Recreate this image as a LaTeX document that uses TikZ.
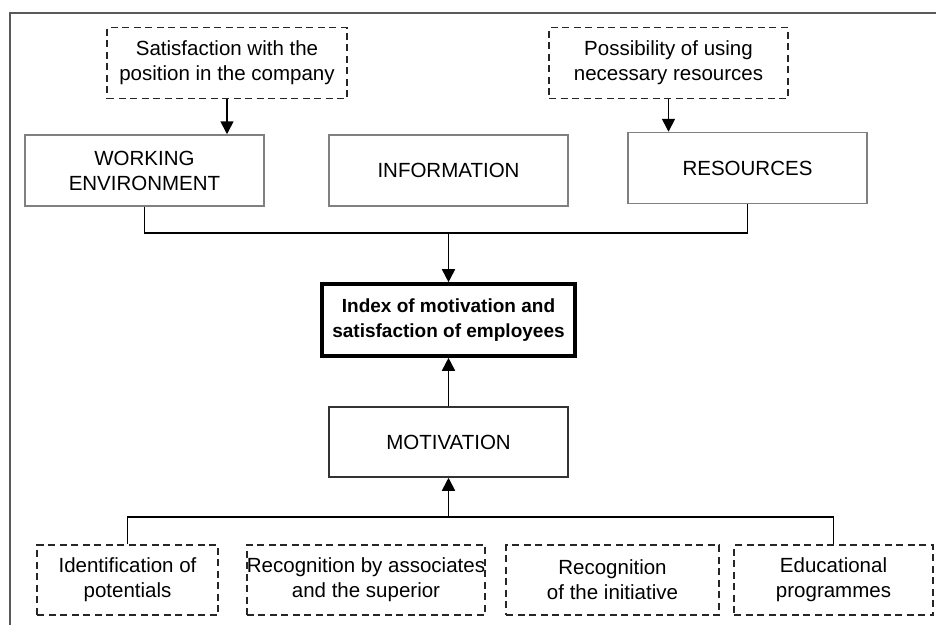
\documentclass[tikz,border=0pt]{standalone}
\usepackage{fontspec}
\setmainfont{Liberation Sans}
\usetikzlibrary{arrows.meta}

\begin{document}
\begin{tikzpicture}[x=1pt, y=-1pt, >={Triangle[length=13pt,width=13pt]},
  font=\fontsize{20.5}{25}\selectfont,
  box/.style={align=center, inner sep=0pt, minimum height=71pt},
  solidbox/.style={box, draw=black!50, line width=1.5pt, minimum width=239pt},
  dashbox/.style={box, draw=black!85, line width=1.5pt, dash pattern=on 7pt off 4.5pt},
  link/.style={line width=1.7pt}]

\clip (0,0) rectangle (936,624);
\draw[black!65, line width=2pt] (10,13) rectangle (960,650);

% upper level
\node[dashbox, minimum width=240pt] (sat) at (227,63) {Satisfaction with the\\position in the company};
\node[dashbox, minimum width=239pt] (poss) at (668.5,63) {Possibility of using\\necessary resources};
\node[solidbox] (work) at (144.5,170.5) {WORKING\\ENVIRONMENT};
\node[solidbox] (info) at (448.5,170.5) {INFORMATION};
\node[solidbox] (res) at (747.5,168) {RESOURCES};

% centre
\node[box, draw, line width=3.6pt, minimum width=253pt, minimum height=72pt, font=\fontsize{19}{25}\selectfont\bfseries] (index) at (448.5,320) {Index of motivation and\\satisfaction of employees};
\node[solidbox, draw=black!80, minimum height=70pt] (motiv) at (448.5,442) {MOTIVATION};

% lower level
\node[dashbox, minimum width=181pt, minimum height=70pt] (ident) at (127.5,580) {Identification of\\potentials};
\node[dashbox, minimum width=238pt, minimum height=70pt] (recog) at (366,580) {Recognition by associates\\and the superior};
\node[dashbox, minimum width=213pt, minimum height=70pt] (initiative) at (612.5,580) {Recognition\\of the initiative};
\node[dashbox, minimum width=199pt, minimum height=70pt] (edu) at (833.5,580) {Educational\\programmes};

\coordinate (top) at (448.5,233);
\coordinate (bot) at (448.5,517);

\draw[link,->] (sat.south) -- (sat.south |- work.north);
\draw[link,->] (poss.south) -- (poss.south |- res.north);
\draw[link] (work.south) |- (top) -| (res.south);
\draw[link,->] (top) -- (index.north);
\draw[link,->] (motiv.north) -- (index.south);
\draw[link] (ident.north) |- (bot) -| (edu.north);
\draw[link,->] (bot) -- (motiv.south);

\end{tikzpicture}
\end{document}
